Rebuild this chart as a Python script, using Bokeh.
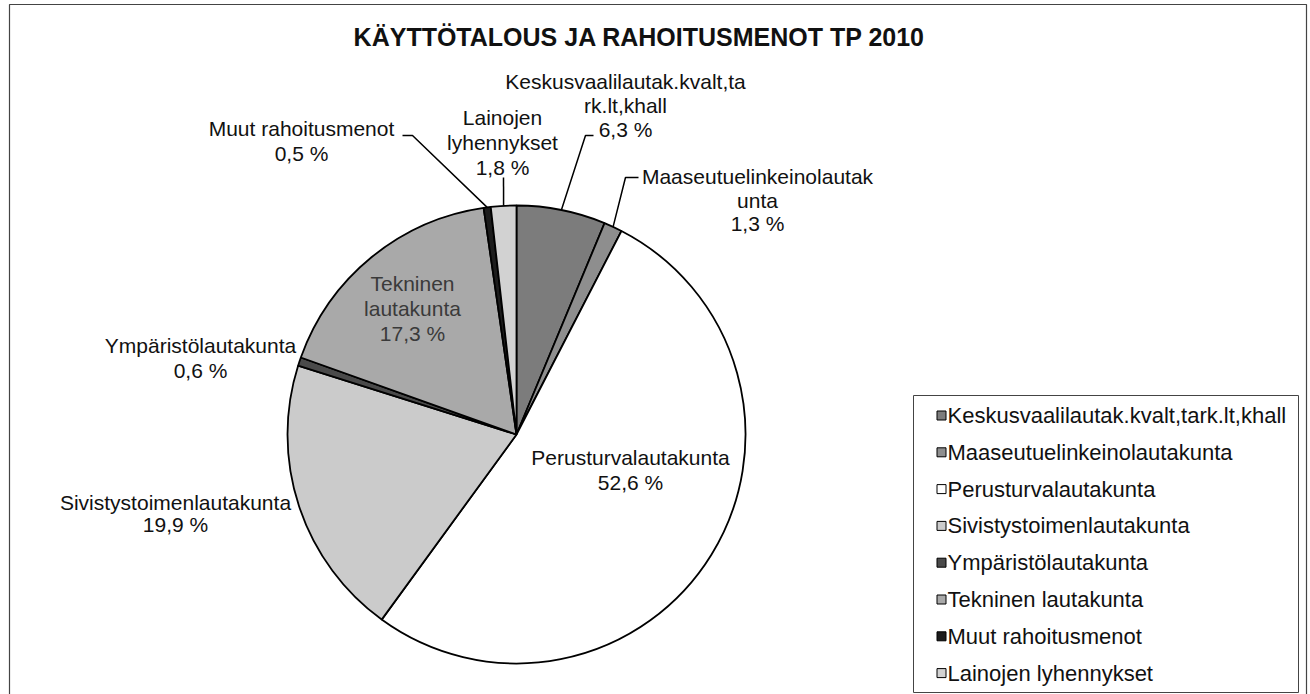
import math
from bokeh.plotting import figure
from bokeh.models import Range1d
from bokeh.core.properties import value
from bokeh.embed import file_html
from bokeh.resources import INLINE

# ---- data ----
categories = ["Keskusvaalilautak.kvalt,tark.lt,khall", "Maaseutuelinkeinolautakunta",
              "Perusturvalautakunta", "Sivistystoimenlautakunta", "Ympäristölautakunta",
              "Tekninen lautakunta", "Muut rahoitusmenot", "Lainojen lyhennykset"]
shares = [6.3, 1.3, 52.6, 19.9, 0.6, 17.3, 0.5, 1.8]
label_names = [["Keskusvaalilautak.kvalt,ta", "rk.lt,khall"],
               ["Maaseutuelinkeinolautak", "unta"],
               ["Perusturvalautakunta"],
               ["Sivistystoimenlautakunta"],
               ["Ympäristölautakunta"],
               ["Tekninen", "lautakunta"],
               ["Muut rahoitusmenot"],
               ["Lainojen", "lyhennykset"]]
title_text = "KÄYTTÖTALOUS JA RAHOITUSMENOT TP 2010"

# ---- styles / layout ----
W, H = 1310, 694
fills = ["#7c7c7c", "#8e8e8e", "#ffffff", "#cbcbcb", "#4a4a4a", "#a9a9a9", "#1c1c1c", "#d2d2d2"]
FONT = value("Liberation Sans")
CX, CY, R = 516, 434, 229
# label anchors: (center x, first line y, line step, text color) in page pixels
anchors = [(625, 81, 24, "#111111"), (757, 176, 23.5, "#111111"), (630, 457, 25, "#111111"),
           (175, 502, 22, "#111111"), (200, 345, 25, "#111111"), (412, 283, 25, "#3a3a3a"),
           (301, 128, 25, "#111111"), (502, 117, 25, "#111111")]
# leader line elbows (page pixels), leader ends at slice midpoint on the rim
leaders = {0: [(593, 135), (585, 135)], 1: [(638, 177), (625, 177)],
           6: [(402, 135), (412, 135)], 7: [(503, 177)]}


def Y(py):
    return H - py


p = figure(width=W, height=H, x_range=Range1d(0, W), y_range=Range1d(0, H),
           output_backend="svg", toolbar_location=None, min_border=0,
           x_axis_type=None, y_axis_type=None)
p.xgrid.visible = False
p.ygrid.visible = False
p.outline_line_color = None
p.background_fill_color = "white"
p.border_fill_color = "white"

# outer frame
p.quad(left=[9], right=[1306], top=[Y(4)], bottom=[Y(694)], fill_color=None,
       line_color="#444444", line_width=1.2)

# title
p.text(x=[639], y=[Y(36)], text=[title_text], text_font=FONT, text_font_size="25px",
       text_font_style="bold", text_align="center", text_baseline="middle", text_color="#111111")

# pie wedges
total = sum(shares)
cum = 0.0
mids = []
for i, v in enumerate(shares):
    t1 = cum / total * 2 * math.pi
    cum += v
    t2 = cum / total * 2 * math.pi
    mids.append((t1 + t2) / 2)
    p.wedge(x=[CX], y=[Y(CY)], radius=R, start_angle=math.pi / 2 - t1,
            end_angle=math.pi / 2 - t2, direction="clock",
            fill_color=fills[i], line_color="#000000", line_width=1.8)

# leader lines
for i, pts in leaders.items():
    th = mids[i]
    ex = CX + R * math.sin(th)
    ey = CY - R * math.cos(th)
    xs = [q[0] for q in pts] + [ex]
    ys = [Y(q[1]) for q in pts] + [Y(ey)]
    p.line(xs, ys, line_color="#000000", line_width=1.5)

# data labels
for i, v in enumerate(shares):
    ax, ay, step, col = anchors[i]
    lines = label_names[i] + [f"{v:.1f}".replace(".", ",") + " %"]
    p.text(x=[ax] * len(lines), y=[Y(ay + k * step) for k in range(len(lines))], text=lines,
           text_font=FONT, text_font_size="21px", text_align="center",
           text_baseline="middle", text_color=col)

# legend (drawn manually)
LX0, LX1, LY0, LY1 = 913, 1298, 395, 692
p.quad(left=[LX0], right=[LX1], top=[Y(LY0)], bottom=[Y(LY1)], fill_color="white",
       line_color="#444444", line_width=1)
for i, name in enumerate(categories):
    yy = 415 + i * 36.8
    p.rect(x=[941], y=[Y(yy)], width=9, height=9, fill_color=fills[i],
           line_color="#000000", line_width=1)
    p.text(x=[947], y=[Y(yy)], text=[name], text_font=FONT, text_font_size="22px",
           text_align="left", text_baseline="middle", text_color="#111111")

open("out.html", "w").write(file_html(p, INLINE))
